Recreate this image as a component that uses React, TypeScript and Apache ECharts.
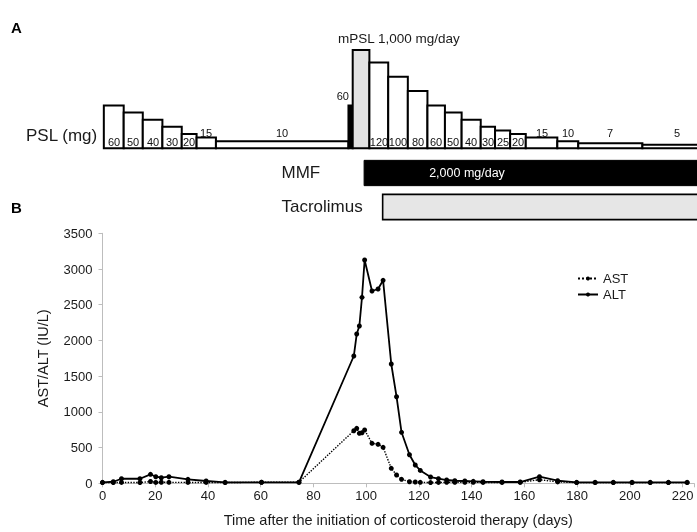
import React, { useEffect, useRef } from 'react';
import * as echarts from 'echarts';

// ---- Laboratory data (days after start of corticosteroid therapy) ----
const labDays = [0, 4.1, 7.2, 14.2, 18.2, 20.2, 22.3, 25.2, 32.4, 39.3, 46.5, 60.3, 74.5,
  95.3, 96.4, 97.4, 98.4, 99.4, 102.2, 104.5, 106.4, 109.5, 111.5, 113.4, 116.4, 118.6, 120.5,
  124.4, 127.4, 130.5, 133.6, 137.4, 140.6, 144.3, 151.5, 158.4, 165.7, 172.6, 179.8, 186.8,
  193.7, 200.8, 207.7, 214.6, 221.7];
const altValues = [14, 22, 64, 64, 126, 92, 78, 92, 56, 32, 14, 14, 14,
  1782, 2090, 2202, 2604, 3126, 2692, 2720, 2842, 1670, 1212, 714, 400, 256, 180,
  88, 65, 46, 36, 32, 28, 22, 18, 18, 92, 36, 14, 14,
  14, 14, 14, 14, 14];
const astValues = [10, 10, 12, 10, 25, 12, 15, 14, 12, 12, 10, 15, 15,
  736, 770, 700, 708, 746, 560, 546, 504, 210, 116, 56, 22, 18, 14,
  10, 12, 14, 14, 14, 14, 12, 12, 14, 50, 20, 10, 10,
  10, 10, 10, 10, 10];

// ---- PSL schedule (mg/day) ----
const pslStart = [0.5, 8, 15.2, 22.6, 29.9, 35.5, 42.8, 92.8, 94.4, 100.7, 107.8, 115.2, 122.6,
  129.2, 135.5, 142.7, 148.1, 153.8, 159.7, 171.6, 179.5, 203.7];
const pslEnd = [8, 15.2, 22.6, 29.9, 35.5, 42.8, 92.8, 94.4, 100.7, 107.8, 115.2, 122.6, 129.2,
  135.5, 142.7, 148.1, 153.8, 159.7, 171.6, 179.5, 203.7, 230];
const pslDose = [60, 50, 40, 30, 20, 15, 10, 60, 1000, 120, 100, 80, 60, 50, 40, 30, 25, 20, 15, 10, 7, 5];
// 0 = oral PSL, 1 = PSL pulse (black), 2 = mPSL pulse (grey, drawn to panel top)
const pslKind = [0, 0, 0, 0, 0, 0, 0, 1, 2, 0, 0, 0, 0, 0, 0, 0, 0, 0, 0, 0, 0, 0];

// ---- Other immunosuppressants ----
const drugs = ['MMF', 'Tacrolimus'];
const drugStart = [98.7, 105.7];
const drugEnd = [230, 230];
const drugDoseText = ['2,000 mg/day', ''];

const X_MAX = 224.3;
const PSL_AXIS_MAX = 137.5;
const FONT = 'Liberation Sans, Arial, Helvetica, sans-serif';
const TXT = '#1a1a1a';

export default function App() {
  const ref = useRef<HTMLDivElement>(null);
  useEffect(() => {
    if (!ref.current) return;
    const chart = echarts.init(ref.current, undefined, { renderer: 'svg' });

    const pslData = pslStart.map((s, i) => [s, pslEnd[i], pslDose[i], pslKind[i]]);
    const drugData = drugs.map((d, i) => [drugStart[i], drugEnd[i], i]);

    const option: any = {
      animation: false,
      color: ['#000'],
      textStyle: { fontFamily: FONT },
      grid: [
        { left: 102.5, right: 0, top: 50, height: 98.3 },
        { left: 102.5, right: 0, top: 156, height: 68 },
        { left: 102.5, right: 0, top: 233.3, bottom: 48.7 },
      ],
      xAxis: [
        { type: 'value', gridIndex: 0, min: 0, max: X_MAX, show: false },
        { type: 'value', gridIndex: 1, min: 0, max: X_MAX, show: false },
        {
          type: 'value', gridIndex: 2, min: 0, max: X_MAX, interval: 20,
          name: 'Time after the initiation of corticosteroid therapy (days)',
          nameLocation: 'middle', nameGap: 29,
          nameTextStyle: { fontSize: 14.5, color: TXT, fontFamily: FONT },
          axisLine: { show: true, lineStyle: { color: '#bdbdbd', width: 1 } },
          axisTick: { show: true, length: 4, lineStyle: { color: '#bdbdbd' } },
          splitLine: { show: false },
          axisLabel: {
            fontSize: 13, color: TXT, margin: 6,
            formatter: (v: number) => (Math.abs(v % 20) < 1e-6 ? String(v) : ''),
          },
        },
      ],
      yAxis: [
        { type: 'value', gridIndex: 0, min: 0, max: PSL_AXIS_MAX, show: false },
        { type: 'category', gridIndex: 1, data: drugs, inverse: true, show: false },
        {
          type: 'value', gridIndex: 2, min: 0, max: 3500, interval: 500,
          name: 'AST/ALT (IU/L)', nameLocation: 'middle', nameGap: 52,
          nameTextStyle: { fontSize: 14.5, color: TXT, fontFamily: FONT },
          axisLine: { show: true, lineStyle: { color: '#bdbdbd', width: 1 } },
          axisTick: { show: true, length: 4, lineStyle: { color: '#bdbdbd' } },
          splitLine: { show: false },
          axisLabel: { fontSize: 13, color: TXT, margin: 10, formatter: (v: number) => String(v) },
        },
      ],
      legend: {
        data: ['AST', 'ALT'], orient: 'vertical', left: 572, top: 267,
        itemWidth: 20, itemHeight: 5, itemGap: 3,
        textStyle: { fontSize: 13, color: TXT, fontFamily: FONT },
      },
      graphic: [
        { type: 'text', left: 11, top: 20, style: { text: 'A', font: `bold 15px ${FONT}`, fill: '#000' } },
        { type: 'text', left: 11, top: 200, style: { text: 'B', font: `bold 15px ${FONT}`, fill: '#000' } },
        { type: 'text', left: 26, top: 127, style: { text: 'PSL (mg)', font: `17px ${FONT}`, fill: TXT } },
        { type: 'text', left: 281.5, top: 164, style: { text: 'MMF', font: `17px ${FONT}`, fill: TXT } },
        { type: 'text', left: 281.5, top: 198, style: { text: 'Tacrolimus', font: `17px ${FONT}`, fill: TXT } },
        { type: 'text', left: 338, top: 31, style: { text: 'mPSL 1,000 mg/day', font: `13.5px ${FONT}`, fill: TXT } },
      ],
      series: [
        {
          type: 'custom', xAxisIndex: 0, yAxisIndex: 0, data: pslData, z: 3,
          colorBy: 'series', itemStyle: { color: TXT },
          renderItem: (params: any, api: any) => {
            const s = api.value(0), e = api.value(1), d = api.value(2), k = api.value(3);
            const p0 = api.coord([s, 0]);
            const p1 = api.coord([e, k === 2 ? PSL_AXIS_MAX : d]);
            const w = p1[0] - p0[0];
            const h = p0[1] - p1[1];
            const children: any[] = [{
              type: 'rect',
              shape: { x: p0[0], y: p1[1], width: w, height: h },
              style: { fill: k === 2 ? '#e2e2e2' : k === 1 ? '#000' : '#fff', stroke: '#000', lineWidth: 2 },
            }];
            if (k === 1) {
              children.push({ type: 'text', x: Math.round(p0[0] + 1), y: Math.round(p1[1] - 9),
                style: { text: String(d), fontSize: 11, fontFamily: FONT, fill: '#111', align: 'right', verticalAlign: 'middle' } });
            } else if (k === 0) {
              const inside = h >= 12;
              children.push({ type: 'text', x: Math.round(p0[0] + w / 2), y: Math.round(inside ? p0[1] - 6.8 : p0[1] - 15.5),
                style: { text: String(d), fontSize: 11, fontFamily: FONT, fill: '#111', align: 'center', verticalAlign: 'middle' } });
            }
            return { type: 'group', children };
          },
        },
        {
          type: 'custom', xAxisIndex: 1, yAxisIndex: 1, data: drugData, z: 3,
          colorBy: 'series', itemStyle: { color: '#000' },
          renderItem: (params: any, api: any) => {
            const i = api.value(2);
            const p0 = api.coord([api.value(0), i]);
            const p1 = api.coord([api.value(1), i]);
            const hh = 25.3;
            const children: any[] = [{
              type: 'rect',
              shape: { x: p0[0], y: p0[1] - hh / 2, width: p1[0] - p0[0], height: hh },
              style: i === 0 ? { fill: '#000', stroke: '#000', lineWidth: 1 }
                : { fill: '#e6e6e6', stroke: '#000', lineWidth: 1.6 },
            }];
            if (drugDoseText[i]) {
              children.push({ type: 'text', x: Math.round(p0[0] + 103), y: Math.round(p0[1]),
                style: { text: drugDoseText[i], fontSize: 12.5, fontFamily: FONT, fill: '#fff', align: 'center', verticalAlign: 'middle' } });
            }
            return { type: 'group', children };
          },
        },
        {
          name: 'AST', type: 'line', xAxisIndex: 2, yAxisIndex: 2,
          data: labDays.map((d, i) => [d, astValues[i]]),
          symbol: 'circle', symbolSize: 5, showSymbol: true,
          itemStyle: { color: '#000' },
          lineStyle: { color: '#000', width: 1.4, type: 'dotted' },
          z: 4,
        },
        {
          name: 'ALT', type: 'line', xAxisIndex: 2, yAxisIndex: 2,
          data: labDays.map((d, i) => [d, altValues[i]]),
          symbol: 'circle', symbolSize: 5, showSymbol: true,
          itemStyle: { color: '#000' },
          lineStyle: { color: '#000', width: 1.8, type: 'solid' },
          z: 5,
        },
      ],
    };
    chart.setOption(option);
    return () => chart.dispose();
  }, []);

  return (
    <div
      ref={ref}
      style={{ position: 'fixed', left: 0, top: 0, width: 697, height: 532, background: '#fff', filter: 'grayscale(1)' }}
    />
  );
}
